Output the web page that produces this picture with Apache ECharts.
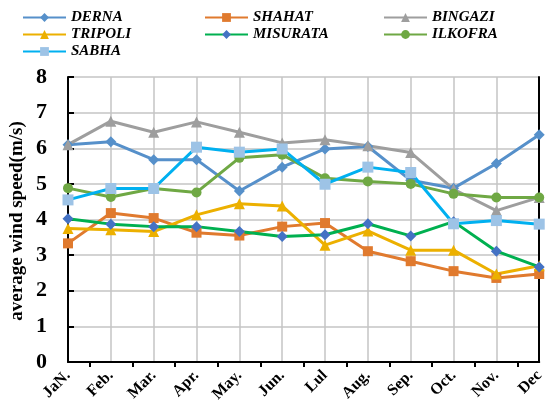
<!DOCTYPE html>
<html>
<head>
<meta charset="utf-8">
<script src="https://cdn.jsdelivr.net/npm/echarts@6/dist/echarts.min.js"></script>
<style>
  html, body { margin: 0; padding: 0; background: #fff; }
  #windChart { width: 547px; height: 416px; }
</style>
</head>
<body>
<div id="windChart"></div>
<script>
  // months along the x axis
  var months = ['JaN.', 'Feb.', 'Mar.', 'Apr.', 'May.', 'Jun.', 'Lul', 'Aug.', 'Sep.', 'Oct.', 'Nov.', 'Dec'];
  var yTicks = [0, 1, 2, 3, 4, 5, 6, 7, 8];

  // average wind speed (m/s) per station
  var derna    = [6.10, 6.18, 5.68, 5.68, 4.80, 5.47, 5.98, 6.05, 5.10, 4.88, 5.57, 6.38];
  var shahat   = [3.33, 4.18, 4.04, 3.63, 3.55, 3.80, 3.90, 3.11, 2.83, 2.55, 2.36, 2.47];
  var bingazi  = [6.10, 6.76, 6.45, 6.74, 6.45, 6.15, 6.24, 6.07, 5.88, 4.85, 4.25, 4.62];
  var tripoli  = [3.75, 3.71, 3.66, 4.13, 4.44, 4.38, 3.28, 3.68, 3.14, 3.14, 2.47, 2.70];
  var misurata = [4.02, 3.87, 3.80, 3.80, 3.66, 3.52, 3.57, 3.88, 3.54, 3.94, 3.11, 2.67];
  var ilkofra  = [4.88, 4.63, 4.87, 4.76, 5.73, 5.82, 5.16, 5.07, 5.00, 4.72, 4.62, 4.62];
  var sabha    = [4.55, 4.87, 4.87, 6.03, 5.89, 5.98, 4.99, 5.47, 5.32, 3.88, 3.97, 3.87];

  var serifFont = '"Liberation Serif", "Times New Roman", serif';

  function makeLine(name, data, lineColor, markColor, symbol, size) {
    return {
      name: name,
      type: 'line',
      data: data,
      symbol: symbol,
      symbolSize: size,
      showAllSymbol: true,
      lineStyle: { color: lineColor, width: 3 },
      itemStyle: { color: markColor, borderWidth: 0 },
      emphasis: { disabled: true }
    };
  }

  var legendText = { fontFamily: serifFont, fontWeight: 'bold', fontStyle: 'italic', fontSize: 15, color: '#000' };
  function makeLegend(names, left) {
    return {
      orient: 'vertical',
      left: left,
      top: 10,
      padding: 0,
      itemWidth: 43,
      itemHeight: 11,
      itemGap: 2,
      textStyle: legendText,
      data: names
    };
  }

  var chart = echarts.init(document.getElementById('windChart'));
  var option = {
    animation: false,
    legend: [
      makeLegend(['DERNA', 'TRIPOLI', 'SABHA'], 22),
      makeLegend(['SHAHAT', 'MISURATA'], 204),
      makeLegend(['BINGAZI', 'ILKOFRA'], 383)
    ],
    grid: { left: 68, right: 5, top: 77, bottom: 54 },
    graphic: [{
      type: 'text',
      x: 17,
      y: 221,
      rotation: Math.PI / 2,
      style: {
        text: 'average wind speed(m/s)',
        font: 'bold 19px ' + serifFont,
        fill: '#000',
        align: 'center',
        verticalAlign: 'middle'
      }
    }],
    xAxis: [
      {
        type: 'category',
        data: months,
        boundaryGap: false,
        axisLine: { lineStyle: { color: '#000', width: 2 } },
        axisTick: { show: false },
        axisLabel: {
          rotate: 45,
          margin: 11,
          fontFamily: serifFont,
          fontWeight: 'bold',
          fontSize: 16,
          color: '#000'
        },
        splitLine: { show: true, lineStyle: { color: '#c4c4c4', width: 1.5 } }
      },
      {
        // ticks between the months, as in the original
        type: 'category',
        position: 'bottom',
        data: months.slice(1).map(function () { return ''; }),
        boundaryGap: true,
        axisLine: { show: false },
        axisTick: { show: true, alignWithLabel: true, length: 5, lineStyle: { color: '#000', width: 2 } },
        axisLabel: { show: false },
        splitLine: { show: false }
      }
    ],
    yAxis: [
      {
        type: 'value',
        min: yTicks[0],
        max: yTicks[yTicks.length - 1],
        interval: 1,
        axisLine: { show: true, lineStyle: { color: '#000', width: 2 } },
        axisTick: { show: true, inside: true, length: 6, lineStyle: { color: '#000', width: 2 } },
        axisLabel: {
          margin: 21,
          fontFamily: serifFont,
          fontWeight: 'bold',
          fontSize: 22,
          color: '#000'
        },
        splitLine: { show: true, lineStyle: { color: '#c4c4c4', width: 1.5 } }
      },
      {
        type: 'value',
        position: 'right',
        min: yTicks[0],
        max: yTicks[yTicks.length - 1],
        interval: 1,
        axisLine: { show: true, lineStyle: { color: '#000', width: 2 } },
        axisTick: { show: false },
        axisLabel: { show: false },
        splitLine: { show: false }
      }
    ],
    series: [
      makeLine('DERNA', derna, '#5690ca', '#5690ca', 'diamond', 11),
      makeLine('SHAHAT', shahat, '#e07a2e', '#e07a2e', 'rect', 10),
      makeLine('BINGAZI', bingazi, '#9e9e9e', '#9e9e9e', 'triangle', 11),
      makeLine('TRIPOLI', tripoli, '#ecb000', '#ecb000', 'triangle', 11),
      makeLine('MISURATA', misurata, '#00b050', '#4472c4', 'diamond', 11),
      makeLine('ILKOFRA', ilkofra, '#6fa844', '#6fa844', 'circle', 10),
      makeLine('SABHA', sabha, '#00b0f0', '#9dc3e6', 'rect', 11)
    ]
  };
  chart.setOption(option, true);
</script>
</body>
</html>
